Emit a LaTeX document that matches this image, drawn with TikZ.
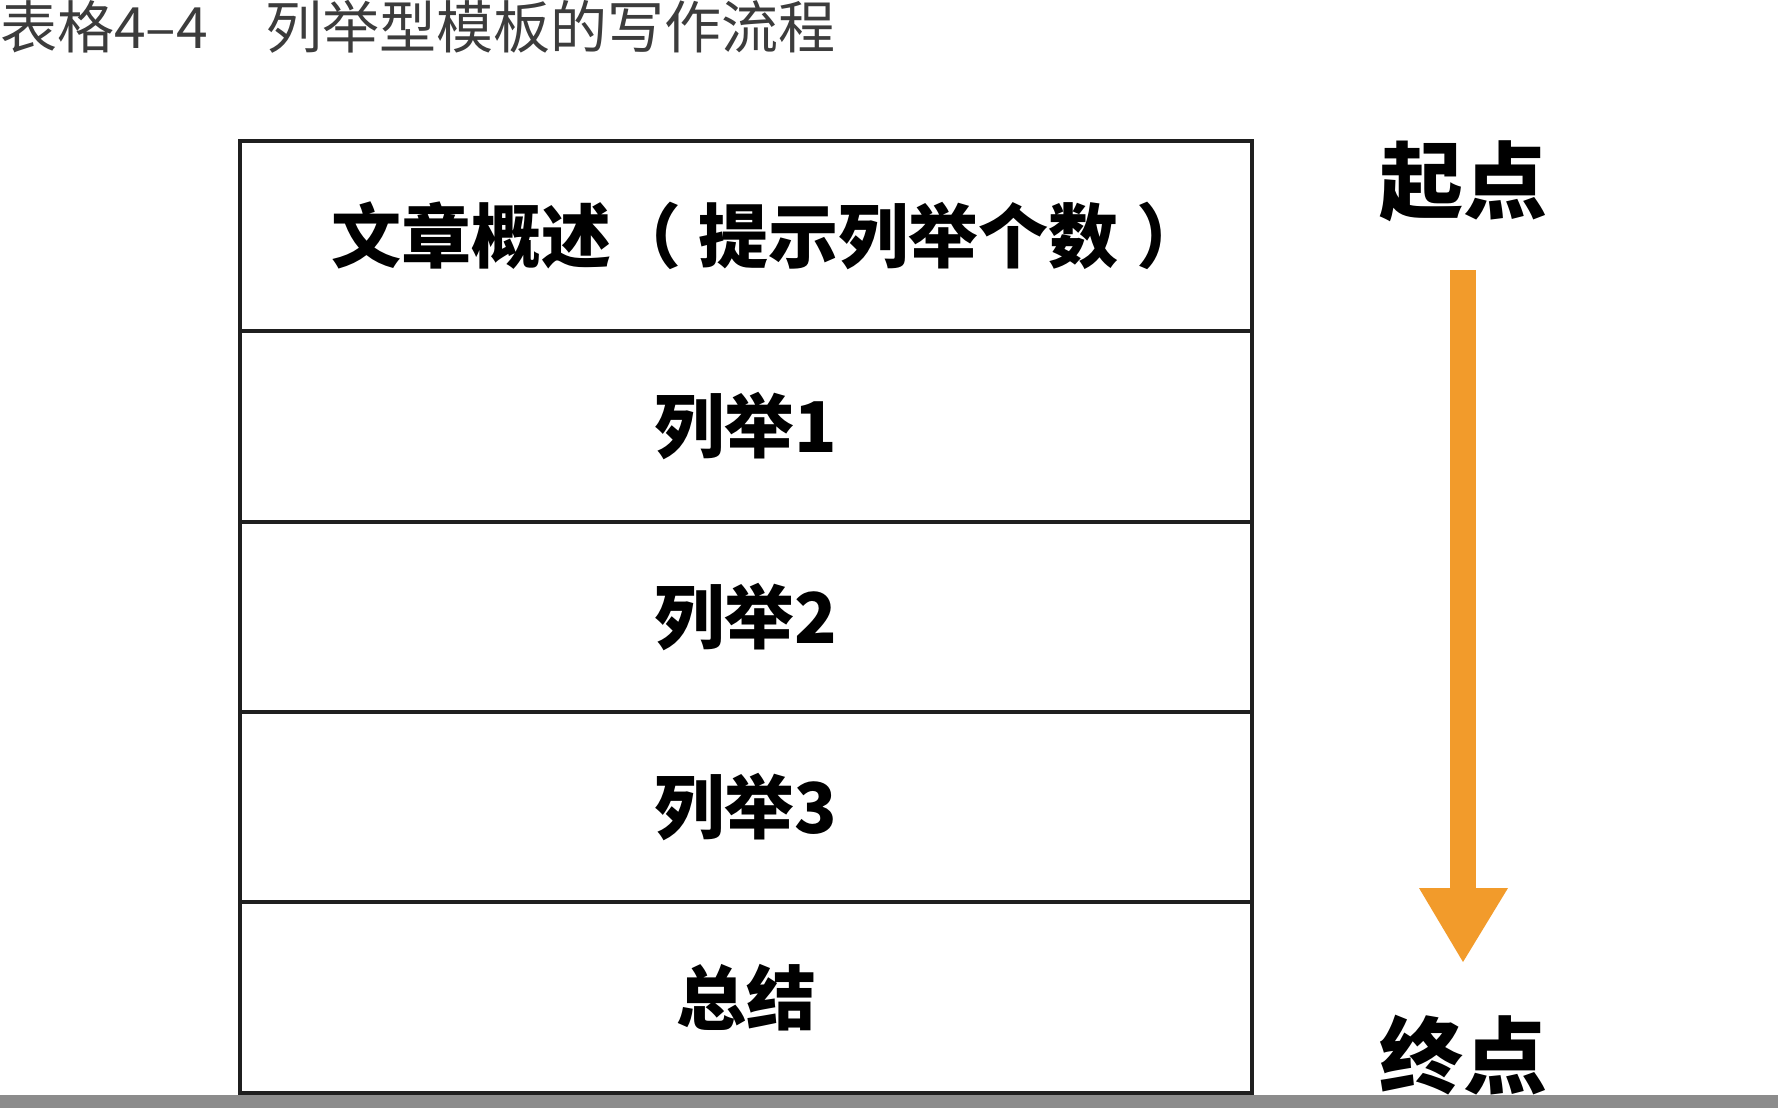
\documentclass[tikz,border=0pt]{standalone}
\usepackage{fontspec}
\newfontfamily\cjk{Noto Sans CJK SC}
\definecolor{orangeA}{HTML}{F29B2B}
\definecolor{titlegray}{HTML}{3C3C3C}
\definecolor{bargray}{HTML}{8C8C8C}
\begin{document}
\begin{tikzpicture}[x=1pt,y=-1pt,
  rowbox/.style={draw=black!88,line width=4pt,minimum width=1012pt,minimum height=190.4pt,inner sep=0pt,font=\cjk\bfseries\fontsize{70}{74}\selectfont},
  endlabel/.style={font=\cjk\bfseries\fontsize{84}{88}\selectfont,inner sep=0pt}]
\useasboundingbox (0,0) rectangle (1778,1108);
\fill[white] (0,0) rectangle (1778,1108);
\node[anchor=west,inner sep=0pt,text=titlegray,font=\cjk\fontsize{57}{60}\selectfont] (title) at (0,27) {表格4–4\hspace{1em}列举型模板的写作流程};
\node[rowbox] (r0) at (746,236) {\hspace{0.65em}文章概述（\hspace{0.25em}提示列举个数\hspace{0.25em}）};
\node[rowbox] (r1) at (746,426.4) {列举1};
\node[rowbox] (r2) at (746,616.8) {列举2};
\node[rowbox] (r3) at (746,807.2) {列举3};
\node[rowbox] (r4) at (746,997.6) {总结};
\node[endlabel] (start) at (1463,181) {起点};
\node[endlabel] (end) at (1463,1055) {终点};
\fill[orangeA] (1450,270) rectangle (1476,890);
\fill[orangeA] (1419,888) -- (1508,888) -- (1463,962) -- cycle;
\fill[bargray] (0,1095) rectangle (1778,1108);
\end{tikzpicture}
\end{document}
